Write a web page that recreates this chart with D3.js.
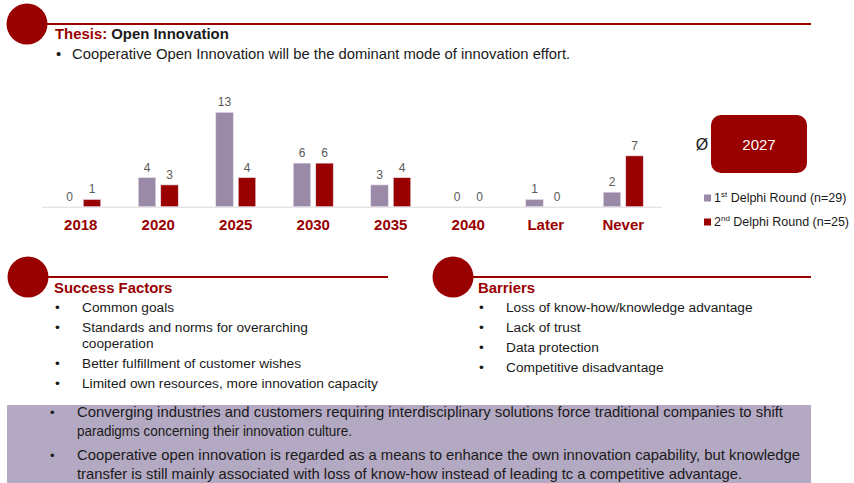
<!DOCTYPE html>
<html>
<head>
<meta charset="utf-8">
<script src="https://cdn.jsdelivr.net/npm/d3@7"></script>
<style>
  html, body { margin: 0; padding: 0; background: #fff; }
  svg { display: block; font-family: "Liberation Sans", Arial, sans-serif; }
</style>
</head>
<body>
<svg id="chart" width="854" height="483"></svg>
<script>
// ---- Data ----
const categories = ["2018", "2020", "2025", "2030", "2035", "2040", "Later", "Never"];
const round1 = [0, 4, 13, 6, 3, 0, 1, 2];
const round2 = [1, 3, 4, 6, 4, 0, 0, 7];
const seriesNames = ["Delphi Round (n=29)", "Delphi Round (n=25)"];
const seriesOrdinals = [["1", "st"], ["2", "nd"]];
const averageLabel = "2027";

const thesisHead = "Thesis:";
const thesisTitle = "Open Innovation";
const thesisText = "Cooperative Open Innovation will be the dominant mode of innovation effort.";
const successHead = "Success Factors";
const successItems = [
  ["Common goals"],
  ["Standards and norms for overarching", "cooperation"],
  ["Better fulfillment  of customer wishes"],
  ["Limited own resources, more innovation capacity"]
];
const barrierHead = "Barriers";
const barrierItems = ["Loss of know-how/knowledge  advantage", "Lack of trust", "Data protection", "Competitive disadvantage"];
const bottomItems = [
  ["Converging industries and customers requiring interdisciplinary solutions force traditional companies to shift",
   "paradigms concerning their innovation culture."],
  ["Cooperative open innovation is regarded as a means to enhance the own innovation capability, but knowledge",
   "transfer is still mainly associated with loss of know-how instead of leading tc a competitive advantage."]
];
const bottomWidths = [[706, 275], [723, 665]];

// ---- Style ----
const RED = "#990000";
const PURPLE = "#9a8aa8";
const TXT = "#1a1a1a";

const svg = d3.select("#chart");

function header(cx, cy, lineEnd) {
  svg.append("line").attr("x1", cx + 20).attr("x2", lineEnd).attr("y1", cy).attr("y2", cy)
    .attr("stroke", RED).attr("stroke-width", 2);
  svg.append("circle").attr("cx", cx).attr("cy", cy).attr("r", 20.5).attr("fill", RED);
}

// ---- Thesis header ----
header(27, 24, 811);
const th = svg.append("text").attr("x", 55).attr("y", 39).attr("font-size", 14.9).attr("font-weight", "bold");
th.append("tspan").attr("fill", RED).text(thesisHead + " ");
th.append("tspan").attr("fill", TXT).text(thesisTitle);
svg.append("text").attr("x", 56).attr("y", 59).attr("font-size", 14.8).attr("fill", TXT).text("•");
svg.append("text").attr("x", 72).attr("y", 59).attr("font-size", 14.8).attr("fill", TXT).text(thesisText);

// ---- Bar chart ----
const x = d3.scaleBand().domain(categories).range([42, 662]);
const y = d3.scaleLinear().domain([0, 13]).range([206.7, 112.3]);
const barW = 17.5, gap = 5;

svg.append("line").attr("x1", 42).attr("x2", 662).attr("y1", y(0) + 0.5).attr("y2", y(0) + 0.5)
  .attr("stroke", "#d9d9d9").attr("stroke-width", 1);

const series = [round1, round2];
const colors = [PURPLE, RED];
series.forEach((vals, si) => {
  const off = si === 0 ? -gap / 2 - barW : gap / 2;
  const g = svg.append("g");
  g.selectAll("rect").data(vals).join("rect")
    .attr("x", (d, i) => x(categories[i]) + x.bandwidth() / 2 + off)
    .attr("y", d => y(d))
    .attr("width", barW)
    .attr("height", d => y(0) - y(d))
    .attr("fill", colors[si])
    .attr("stroke", d => d > 0 ? "#e6e0ea" : "none")
    .attr("stroke-width", 0.6);
  g.selectAll("text").data(vals).join("text")
    .attr("x", (d, i) => x(categories[i]) + x.bandwidth() / 2 + off + barW / 2)
    .attr("y", d => y(d) - 6)
    .attr("text-anchor", "middle").attr("font-size", 12).attr("fill", "#595959")
    .text(d => d);
});

const xAxis = svg.append("g").attr("transform", `translate(0,${y(0)})`)
  .call(d3.axisBottom(x).tickSize(0).tickPadding(0));
xAxis.select(".domain").remove();
xAxis.selectAll("text").attr("dy", null).attr("y", 23.5)
  .attr("font-size", 15).attr("font-weight", "bold").attr("fill", RED)
  .attr("font-family", "Liberation Sans, Arial, sans-serif");

// ---- Average box ----
svg.append("rect").attr("x", 711).attr("y", 115).attr("width", 96).attr("height", 58)
  .attr("rx", 10).attr("fill", RED);
svg.append("text").attr("x", 759).attr("y", 149.5).attr("text-anchor", "middle")
  .attr("font-size", 15).attr("fill", "#fff").text(averageLabel);
svg.append("text").attr("x", 702).attr("y", 150).attr("text-anchor", "middle")
  .attr("font-size", 16).attr("fill", TXT).text("Ø");

// ---- Legend ----
const legY = [202, 226];
seriesNames.forEach((name, i) => {
  svg.append("rect").attr("x", 704).attr("y", legY[i] - 7.5).attr("width", 7).attr("height", 7)
    .attr("fill", colors[i]);
  const t = svg.append("text").attr("x", 714).attr("y", legY[i]).attr("font-size", 12.5).attr("fill", TXT);
  t.append("tspan").text(seriesOrdinals[i][0]);
  t.append("tspan").attr("font-size", 8).attr("dy", -5).text(seriesOrdinals[i][1]);
  t.append("tspan").attr("dy", 5).text(" " + name);
});

// ---- Success factors ----
header(28, 277, 388);
svg.append("text").attr("x", 54).attr("y", 293).attr("font-size", 14.9).attr("font-weight", "bold")
  .attr("fill", RED).text(successHead);
let sy = 312;
successItems.forEach(lines => {
  svg.append("text").attr("x", 55).attr("y", sy).attr("font-size", 13.7).attr("fill", TXT).text("•");
  lines.forEach((ln, j) => {
    svg.append("text").attr("x", 82).attr("y", sy + j * 16).attr("font-size", 13.7).attr("fill", TXT).text(ln);
  });
  sy += 20 + (lines.length - 1) * 16;
});

// ---- Barriers ----
header(453, 277, 811);
svg.append("text").attr("x", 478).attr("y", 293).attr("font-size", 14.9).attr("font-weight", "bold")
  .attr("fill", RED).text(barrierHead);
barrierItems.forEach((ln, i) => {
  svg.append("text").attr("x", 479).attr("y", 312 + i * 20).attr("font-size", 13.7).attr("fill", TXT).text("•");
  svg.append("text").attr("x", 506).attr("y", 312 + i * 20).attr("font-size", 13.7).attr("fill", TXT).text(ln);
});

// ---- Bottom box ----
svg.append("rect").attr("x", 7).attr("y", 405).attr("width", 804).attr("height", 90).attr("fill", "#b4a9c2");
const bY = [[417, 436], [460, 479]];
bottomItems.forEach((lines, i) => {
  svg.append("text").attr("x", 50).attr("y", bY[i][0]).attr("font-size", 13).attr("fill", TXT).text("•");
  lines.forEach((ln, j) => {
    svg.append("text").attr("x", 77).attr("y", bY[i][j]).attr("font-size", 14.5)
      .attr("font-family", "'Liberation Sans Narrow', 'Arial Narrow', 'Liberation Sans', sans-serif")
      .attr("fill", TXT)
      .attr("textLength", bottomWidths[i][j]).attr("lengthAdjust", "spacingAndGlyphs")
      .text(ln);
  });
});
</script>
</body>
</html>
